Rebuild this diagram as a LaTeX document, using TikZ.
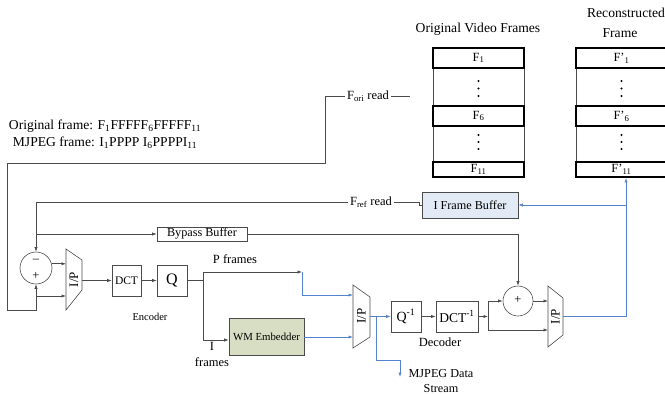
\documentclass[tikz,border=0pt]{standalone}
\usepackage{fontspec}
\setmainfont{Liberation Serif}
\usetikzlibrary{arrows.meta}
\definecolor{ln}{RGB}{75,75,75}
\definecolor{bl}{RGB}{85,130,205}
\definecolor{wmfill}{RGB}{216,222,196}
\definecolor{ifbfill}{RGB}{226,234,246}
\newcommand{\fs}[1]{\fontsize{#1}{#1}\selectfont}
\begin{document}
\begin{tikzpicture}[x=1pt,y=-1pt,
  every node/.style={font=\fs{12.5}, inner sep=0pt},
  wire/.style={draw=ln, line width=0.6pt},
  bwire/.style={draw=bl, line width=0.7pt},
  tip/.style={-{Latex[length=4.5pt,width=3.2pt]}},
  blk/.style={draw=ln, line width=0.6pt},
  col/.style={draw=ln, line width=0.6pt, minimum width=91pt, minimum height=129pt},
  thk/.style={draw=black, line width=1.9pt, minimum width=91pt},
  muxshape/.style={draw=ln, line width=0.6pt},
  muxtxt/.style={rotate=90, font=\fs{13}},
  dotmark/.style={fill=black}
]
\useasboundingbox (0,0) rectangle (665,394);

% ---------- frame columns ----------
\node[font=\fs{13.6}] (t1) at (478,29) {Original Video Frames};
\node[font=\fs{13.6}] (t2a) at (626,13) {Reconstructed};
\node[font=\fs{13.6}] (t2b) at (620,33) {Frame};

\node[col] (colA) at (478.5,112.5) {};
\node[thk, minimum height=20pt] (A1) at (478.5,58) {F\textsubscript{1}};
\node[thk, minimum height=20pt] (A6) at (478.5,116) {F\textsubscript{6}};
\node[thk, minimum height=15pt] (A11) at (478.5,169.5) {F\textsubscript{11}};
\foreach \y in {81,88.5,96,135,142,149} \fill[dotmark] (478.5,\y) circle (1.1pt);

\node[col] (colB) at (621.5,112.5) {};
\node[thk, minimum height=20pt] (B1) at (621.5,58) {F’\textsubscript{1}};
\node[thk, minimum height=20pt] (B6) at (621.5,116) {F’\textsubscript{6}};
\node[thk, minimum height=15pt] (B11) at (621.5,169.5) {F’\textsubscript{11}};
\foreach \y in {81,88.5,96,135,142,149} \fill[dotmark] (621.5,\y) circle (1.1pt);

% ---------- left text ----------
\node[font=\fs{13.6}] (of) at (105,126) {Original frame: F\textsubscript{1}FFFFF\textsubscript{6}FFFFF\textsubscript{11}};
\node[font=\fs{13.6}] (mf) at (105,143) {MJPEG frame: I\textsubscript{1}PPPP I\textsubscript{6}PPPPI\textsubscript{11}};

% ---------- blocks ----------
\node[circle, draw=ln, line width=0.6pt, minimum size=32pt] (s1) at (36,268) {};
\node (s1m) at (36,261) {–};
\node (s1p) at (36,276) {+};

\draw[muxshape] (66,249) -- (82,260) -- (82,290) -- (66,310) -- cycle;
\node[muxtxt] (m1) at (74,279.5) {I/P};

\node[blk, minimum width=29pt, minimum height=31pt, font=\fs{11.5}] (dct) at (126.5,280.5) {DCT};
\node[blk, minimum width=30pt, minimum height=31pt, font=\fs{16}] (q) at (172,280.5) {Q};
\node[font=\fs{10.5}] (enc) at (150,317) {Encoder};

\node[blk, minimum width=90pt, minimum height=14pt, font=\fs{12.2}] (byp) at (202,234) {Bypass Buffer};
\node[blk, fill=ifbfill, minimum width=96pt, minimum height=26pt, font=\fs{12.2}] (ifb) at (470,205) {I Frame Buffer};
\node[blk, fill=wmfill, minimum width=75pt, minimum height=37pt, font=\fs{10.8}] (wm) at (266.5,337) {WM Embedder};

\node (pf) at (235,259) {P frames};
\node (if1) at (212,346) {I};
\node (if2) at (212,362) {frames};

\draw[muxshape] (353,285) -- (370,297) -- (370,337) -- (353,348) -- cycle;
\node[muxtxt] (m2) at (361.5,316) {I/P};

\node[blk, minimum width=30pt, minimum height=31pt, font=\fs{14}] (qi) at (406,316.5) {Q\textsuperscript{-1}};
\node[blk, minimum width=42pt, minimum height=31pt, font=\fs{13.5}] (dcti) at (457,316.5) {DCT\textsuperscript{-1}};
\node (dec) at (440,342) {Decoder};
\node[align=center, font=\fs{12.2}] (mj) at (441,381) {MJPEG Data\\[2pt]Stream};

\node[circle, draw=ln, line width=0.6pt, minimum size=30pt] (s2) at (518,301) {};
\node (s2p) at (518,300) {+};

\draw[muxshape] (548,286) -- (563,298) -- (563,335) -- (548,347) -- cycle;
\node[muxtxt] (m3) at (555.5,316.5) {I/P};

% ---------- coordinates ----------
\coordinate (m1L) at (66,0);
\coordinate (m1out) at (82,280.5);
\coordinate (m2in1) at (353,295);
\coordinate (m2in2) at (353,337);
\coordinate (m2out) at (370,316.5);
\coordinate (m3in1) at (548,301);
\coordinate (m3in2) at (548,330);
\coordinate (m3out) at (563,316.5);
\coordinate (jq) at (203,280.5);
\coordinate (jp) at (302,272);
\coordinate (jd) at (488,316.5);
\coordinate (jb) at (626,316.5);
\coordinate (jm) at (376,316.5);
\coordinate (mjt) at (400,377);

% ---------- connectors ----------
\node[inner sep=2pt] (fori) at (368,96) {F\textsubscript{ori} read};
\draw[wire] (fori.east) -- (410,96);
\draw[wire, tip] (fori.west) -- (325,96) -- (325,163) -- (7,163) -- (7,310) -- (36,310) -- (s1.south);
\draw[wire, tip] (36,296) -- (66,296);

\node[inner sep=2pt] (fref) at (371,202) {F\textsubscript{ref} read};
\draw[wire] (fref.east) -- (419,202) -- (419,205) -- (ifb.west);
\draw[wire, tip] (fref.west) -- (36,202) -- (s1.north);
\draw[wire, tip] (36,234) -- (byp.west);
\draw[wire, tip] (byp.east) -| (s2.north);

\draw[wire, tip] (s1.15) -- (s1.15 -| m1L);
\draw[wire, tip] (m1out) -- (dct.west);
\draw[wire, tip] (dct) -- (q);
\draw[wire] (q.east) -- (jq);
\draw[wire, tip] (jq) -- (203,272) -- (jp);
\draw[bwire, tip] (jp) -- (302,295) -- (m2in1);
\draw[wire, tip] (jq) -- (203,340) -- (wm.west |- 0,340);
\draw[bwire, tip] (wm.east |- m2in2) -- (m2in2);

\draw[bwire, tip] (m2out) -- (qi.west);
\draw[bwire, tip] (jm) -- (376,360) -- (400,360) -- (mjt);
\draw[wire, tip] (qi) -- (dcti);
\draw[wire, tip] (dcti.east) -- (jd);
\draw[wire, tip] (jd) -- (488,301) -- (s2.west);
\draw[wire, tip] (jd) -- (488,330) -- (m3in2);
\draw[wire, tip] (s2.east) -- (m3in1);

\draw[bwire, tip] (m3out) -- (jb) -- (jb |- B11.south);
\draw[bwire, tip] (626,205) -- (ifb.east);
\end{tikzpicture}
\end{document}
